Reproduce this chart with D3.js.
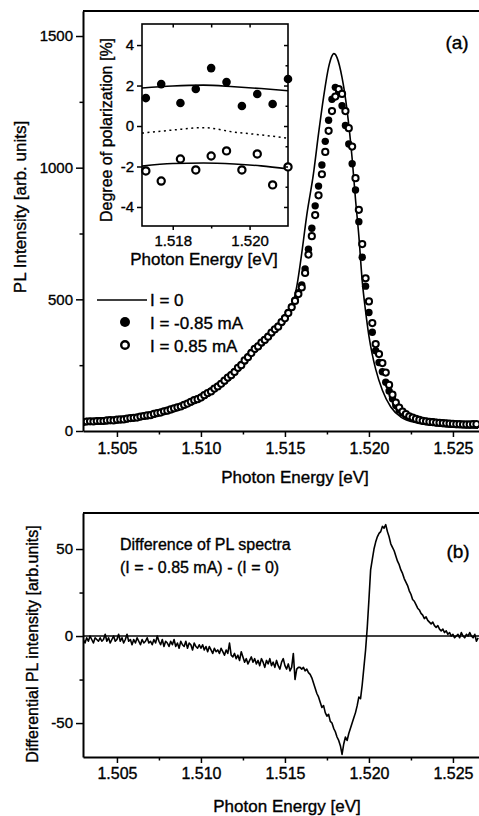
<!DOCTYPE html>
<html lang="en">
<head>
<meta charset="UTF-8">
<script src="https://d3js.org/d3.v7.min.js"></script>
<title>PL spectra</title>
<style>
  body { margin: 0; background: #fff; }
  svg { display: block; }
  svg text { stroke: #000; stroke-width: 0.35px; }
</style>
</head>
<body>
<svg class="chart"></svg>
<script>
// photon energy grid of the measured PL points [eV]
const energy = [
  1.5030,1.5032,1.5034,1.5036,1.5038, 1.5040,1.5042,1.5044,1.5046,1.5048,
  1.5050,1.5052,1.5054,1.5056,1.5058, 1.5060,1.5062,1.5064,1.5066,1.5068,
  1.5070,1.5072,1.5074,1.5076,1.5078, 1.5080,1.5082,1.5084,1.5086,1.5088,
  1.5090,1.5092,1.5094,1.5096,1.5098, 1.5100,1.5102,1.5104,1.5106,1.5108,
  1.5110,1.5112,1.5114,1.5116,1.5118, 1.5120,1.5122,1.5124,1.5126,1.5128,
  1.5130,1.5132,1.5134,1.5136,1.5138, 1.5140,1.5142,1.5144,1.5146,1.5148,
  1.5150,1.5152,1.5154,1.5156,1.5158, 1.5160,1.5162,1.5164,1.5166,1.5168,
  1.5170,1.5172,1.5174,1.5176,1.5178, 1.5180,1.5182,1.5184,1.5186,1.5188,
  1.5190,1.5192,1.5194,1.5196,1.5198, 1.5200,1.5202,1.5204,1.5206,1.5208,
  1.5210,1.5212,1.5214,1.5216,1.5218, 1.5220,1.5222,1.5224,1.5226,1.5228,
  1.5230,1.5232,1.5234,1.5236,1.5238, 1.5240,1.5242,1.5244,1.5246,1.5248,
  1.5250,1.5252,1.5254,1.5256,1.5258, 1.5260,1.5262,1.5264
];
// I = -0.85 mA (filled circles)
const plNeg = [
  35,36,36,37,37, 38,39,39,40,41,
  42,43,45,46,48, 50,52,54,56,58,
  61,64,67,71,74, 78,81,85,89,94,
  100,105,110,116,122, 128,135,143,152,160,
  170,180,190,201,213, 225,238,252,266,282,
  298,310,322,334,347, 360,372,385,398,413,
  430,450,472,497,525, 555,615,690,770,855,
  930,1010,1100,1180,1260, 1305,1285,1235,1160,1090,
  1015,915,795,660,550, 450,375,305,260,225,
  185,152,122,97,80, 68,60,53,48,44,
  40,38,36,35,34, 32,31,30,29,28,
  27,26,25,25,24, 24,25,25
];
// I = 0.85 mA (open circles)
const plPos = [
  34,36,37,36,38, 38,38,40,41,40,
  43,44,44,47,49, 50,51,55,57,59,
  60,65,68,70,75, 77,82,86,90,93,
  99,104,111,117,121, 127,136,144,150,161,
  169,179,191,203,212, 224,240,250,268,280,
  296,312,321,336,346, 358,374,386,396,414,
  428,448,470,494,520, 545,600,670,740,820,
  895,975,1060,1140,1215, 1270,1298,1280,1215,1150,
  1080,960,840,710,580, 492,410,330,292,258,
  222,175,138,108,89, 74,64,56,51,46,
  42,39,37,35,34, 32,31,30,29,28,
  27,26,26,25,25, 25,26,26
];
// I = 0 (solid line)
const lineE = [1.5030,1.5040,1.5050,1.5060,1.5070,1.5080,1.5090,1.5100,1.5110,1.5120,
  1.5130,1.5140,1.5146,1.5150,1.5153,1.5157,1.5160,1.5163,1.5167,1.5170,1.5173,1.5176,
  1.5178,1.5179,1.5180,1.5181,1.5184,1.5187,1.5190,1.5192,1.5194,1.5196,1.5198,1.5200,
  1.5202,1.5204,1.5208,1.5213,1.5219,1.5229,1.5240,1.5250,1.5265];
const lineI = [33,37,41,49,59,76,97,124,167,224,
  294,358,395,428,450,547,675,820,978,1129,1268,1382,
  1425,1433,1430,1418,1342,1217,1035,880,740,570,455,360,
  290,235,155,91,53,30,20,14,11];

// inset: degree of polarization [%]
const inE = [1.5173,1.5177,1.5182,1.5186,1.5190,1.5194,1.5198,1.5202,1.5206,1.5210];
const polNeg = [1.38,2.07,1.14,1.83,2.86,2.17,0.99,1.58,1.09,2.32];
const polPos = [-2.22,-2.72,-1.63,-2.17,-1.48,-1.23,-2.17,-1.38,-2.91,-2.02];
const fitE = [1.5172,1.5180,1.5188,1.5196,1.5203,1.5210];
const fitUp = [1.88,1.98,2.02,1.94,1.85,1.74];
const fitLow = [-1.98,-1.85,-1.83,-1.88,-1.97,-2.12];
const fitMid = [-0.35,-0.2,-0.08,-0.3,-0.44,-0.6];

// difference spectrum (I = -0.85 mA) - (I = 0)
const diffE = [
  1.5030,1.5031,1.5032,1.5033,1.5034,1.5035,1.5036,1.5037,1.5038,1.5039,
  1.5040,1.5041,1.5042,1.5043,1.5044,1.5045,1.5046,1.5047,1.5048,1.5049,
  1.5050,1.5051,1.5052,1.5053,1.5054,1.5055,1.5056,1.5057,1.5058,1.5059,
  1.5060,1.5061,1.5062,1.5063,1.5064,1.5065,1.5066,1.5067,1.5068,1.5069,
  1.5070,1.5071,1.5072,1.5073,1.5074,1.5075,1.5076,1.5077,1.5078,1.5079,
  1.5080,1.5081,1.5082,1.5083,1.5084,1.5085,1.5086,1.5087,1.5088,1.5089,
  1.5090,1.5091,1.5092,1.5093,1.5094,1.5095,1.5096,1.5097,1.5098,1.5099,
  1.5100,1.5101,1.5102,1.5103,1.5104,1.5105,1.5106,1.5107,1.5108,1.5109,
  1.5110,1.5111,1.5112,1.5113,1.5114,1.5115,1.5116,1.5117,1.5118,1.5119,
  1.5120,1.5121,1.5122,1.5123,1.5124,1.5125,1.5126,1.5127,1.5128,1.5129,
  1.5130,1.5131,1.5132,1.5133,1.5134,1.5135,1.5136,1.5137,1.5138,1.5139,
  1.5140,1.5141,1.5142,1.5143,1.5144,1.5145,1.5146,1.5147,1.5148,1.5149,
  1.5150,1.5151,1.5152,1.5153,1.5154,1.5155,1.5156,1.5157,1.5158,1.5159,
  1.5160,1.5161,1.5162,1.5163,1.5164,1.5165,1.5166,1.5167,1.5168,1.5169,
  1.5170,1.5171,1.5172,1.5173,1.5174,1.5175,1.5176,1.5177,1.5178,1.5179,
  1.5180,1.5181,1.5182,1.5183,1.5184,1.5185,1.5186,1.5187,1.5188,1.5189,
  1.5190,1.5191,1.5192,1.5193,1.5194,1.5195,1.5196,1.5197,1.5198,1.5199,
  1.5200,1.5201,1.5202,1.5203,1.5204,1.5205,1.5206,1.5207,1.5208,1.5209,
  1.5210,1.5211,1.5212,1.5213,1.5214,1.5215,1.5216,1.5217,1.5218,1.5219,
  1.5220,1.5221,1.5222,1.5223,1.5224,1.5225,1.5226,1.5227,1.5228,1.5229,
  1.5230,1.5231,1.5232,1.5233,1.5234,1.5235,1.5236,1.5237,1.5238,1.5239,
  1.5240,1.5241,1.5242,1.5243,1.5244,1.5245,1.5246,1.5247,1.5248,1.5249,
  1.5250,1.5251,1.5252,1.5253,1.5254,1.5255,1.5256,1.5257,1.5258,1.5259,
  1.5260,1.5261,1.5262,1.5263,1.5264,1.5265
];
const diffV = [
  -2,-4,-1,-3,0,-2,-4,-1,-2,-3,
  -1,-3,-2,1,-3,-1,-4,-2,0,-3,
  -2,1,-3,-1,-4,-2,1,-3,-2,-5,
  -2,-4,-1,-3,-5,-2,-4,-3,-1,-4,
  -3,-5,-2,-4,0,-3,-5,-2,-6,-3,
  -4,-6,-3,-5,-2,-6,-4,-7,-3,-5,
  -6,-3,-7,-4,-5,-8,-4,-6,-7,-5,
  -7,-5,-8,-6,-9,-6,-8,-10,-7,-9,
  -8,-10,-7,-9,-11,-8,-10,-4,-11,-12,
  -10,-13,-11,-14,-9,-12,-15,-13,-16,-14,
  -12,-15,-13,-16,-14,-17,-13,-15,-18,-14,
  -16,-13,-17,-15,-18,-14,-17,-19,-15,-13,
  -17,-19,-16,-20,-18,-10,-25,-19,-18,-18,
  -19,-18,-20,-19,-21,-22,-24,-27,-30,-33,
  -35,-38,-41,-40,-44,-46,-45,-49,-50,-53,
  -55,-58,-60,-63,-68,-62,-58,-60,-56,-53,
  -50,-47,-44,-40,-35,-36,-28,-18,-8,5,
  21,38,44,50,54,57,59,60,63,62,
  64,60,57,53,51,49,46,43,41,38,
  36,33,31,29,26,24,21,20,18,16,
  15,13,12,10,11,9,8,7,8,6,
  5,6,4,3,4,2,3,1,2,0,
  1,-1,0,1,-1,2,0,-1,1,0,
  2,0,-1,1,-3,-1
];

const xTicks = [1.505, 1.510, 1.515, 1.520, 1.525];
const xMinor = [1.5075, 1.5125, 1.5175, 1.5225];
const yTopTicks = [0, 500, 1000, 1500];
const yTopMinor = [250, 750, 1250];
const yBotTicks = [-50, 0, 50];
const yBotMinor = [-25, 25];
const inXTicks = [1.518, 1.520];
const inXMinor = [1.519];
const inYTicks = [-4, -2, 0, 2, 4];
const inYMinor = [-3, -1, 1, 3];

const FONT = '"Liberation Sans", Arial, sans-serif';

let svg = d3.select('.chart').attr('width', 479).attr('height', 816);

let x = d3.scaleLinear().domain([1.50298, 1.52667]).range([83, 481]);
let yTop = d3.scaleLinear().domain([0, 1595]).range([431, 11]);
let yBot = d3.scaleLinear().domain([-69.5, 70.7]).range([757, 513]);

function styleAxis(g, size) {
    g.attr('font-family', FONT).attr('font-size', size);
    g.selectAll('.domain').attr('stroke-width', 2);
    g.selectAll('.tick line').attr('stroke-width', 1.5);
    g.selectAll('.tick text').attr('fill', '#000');
}

function minor(g, axis) {
    g.call(axis.tickFormat('').tickSizeOuter(0));
    g.select('.domain').remove();
    g.selectAll('.tick line').attr('stroke-width', 1.5);
}

// ---------- panel (a) ----------
svg.append('clipPath').attr('id', 'clipA')
    .append('rect').attr('x', 83).attr('y', 11).attr('width', 400).attr('height', 420);

svg.append('line').attr('x1', 83).attr('x2', 481).attr('y1', 11).attr('y2', 11)
    .attr('stroke', '#000').attr('stroke-width', 2);

let plotA = svg.append('g').attr('clip-path', 'url(#clipA)');

plotA.append('path')
    .datum(lineE.map((e, i) => [e, lineI[i]]))
    .attr('fill', 'none').attr('stroke', '#000').attr('stroke-width', 1.6)
    .attr('d', d3.line().x(d => x(d[0])).y(d => yTop(d[1])).curve(d3.curveMonotoneX));

plotA.selectAll('circle.neg')
    .data(energy)
    .enter()
    .append('circle').attr('class', 'neg')
    .attr('cx', d => x(d))
    .attr('cy', (d, i) => yTop(plNeg[i]))
    .attr('r', 3.7)
    .attr('fill', '#000');

plotA.selectAll('circle.pos')
    .data(energy)
    .enter()
    .append('circle').attr('class', 'pos')
    .attr('cx', d => x(d))
    .attr('cy', (d, i) => yTop(plPos[i]))
    .attr('r', 3.1)
    .attr('fill', '#fff').attr('stroke', '#000').attr('stroke-width', 2);

let gxA = svg.append('g').attr('transform', 'translate(0,431)')
    .call(d3.axisBottom(x).tickValues(xTicks).tickSize(6).tickPadding(6).tickSizeOuter(0).tickFormat(d3.format('.3f')));
styleAxis(gxA, 16);
minor(svg.append('g').attr('transform', 'translate(0,431)'), d3.axisBottom(x).tickValues(xMinor).tickSize(3.5));

let gyA = svg.append('g').attr('transform', 'translate(83,0)')
    .call(d3.axisLeft(yTop).tickValues(yTopTicks).tickSize(7).tickPadding(3).tickSizeOuter(0).tickFormat(d => String(d)));
styleAxis(gyA, 15);
minor(svg.append('g').attr('transform', 'translate(83,0)'), d3.axisLeft(yTop).tickValues(yTopMinor).tickSize(3.5));

svg.append('text').attr('x', 295).attr('y', 483).attr('text-anchor', 'middle')
    .attr('font-family', FONT).attr('font-size', 17).text('Photon Energy [eV]');
svg.append('text').attr('transform', 'translate(26,207) rotate(-90)').attr('text-anchor', 'middle')
    .attr('font-family', FONT).attr('font-size', 17).text('PL Intensity [arb. units]');
svg.append('text').attr('x', 457).attr('y', 49).attr('text-anchor', 'middle')
    .attr('font-family', FONT).attr('font-size', 19).text('(a)');

// legend
svg.append('line').attr('x1', 97).attr('x2', 147).attr('y1', 300).attr('y2', 300)
    .attr('stroke', '#000').attr('stroke-width', 1.6);
svg.append('circle').attr('cx', 125).attr('cy', 322).attr('r', 5).attr('fill', '#000');
svg.append('circle').attr('cx', 125).attr('cy', 345).attr('r', 3.8)
    .attr('fill', '#fff').attr('stroke', '#000').attr('stroke-width', 2.4);
let legendText = ['I = 0', 'I = -0.85 mA', 'I = 0.85 mA'];
svg.selectAll('text.legend')
    .data(legendText)
    .enter()
    .append('text').attr('class', 'legend')
    .attr('x', 150)
    .attr('y', (d, i) => 306 + i * 23)
    .attr('font-family', FONT).attr('font-size', 17)
    .text(d => d);

// ---------- inset ----------
let ix = d3.scaleLinear().domain([1.5172, 1.5210]).range([142, 288]);
let iy = d3.scaleLinear().domain([-4.94, 5.04]).range([226, 24]);

svg.append('rect').attr('x', 142).attr('y', 24).attr('width', 146).attr('height', 202)
    .attr('fill', '#fff').attr('stroke', '#000').attr('stroke-width', 1.6);

let lineIn = d3.line().x(d => ix(d[0])).y(d => iy(d[1])).curve(d3.curveMonotoneX);
svg.append('path').datum(fitE.map((e, i) => [e, fitUp[i]]))
    .attr('fill', 'none').attr('stroke', '#000').attr('stroke-width', 1.6).attr('d', lineIn);
svg.append('path').datum(fitE.map((e, i) => [e, fitLow[i]]))
    .attr('fill', 'none').attr('stroke', '#000').attr('stroke-width', 1.6).attr('d', lineIn);
svg.append('path').datum(fitE.map((e, i) => [e, fitMid[i]]))
    .attr('fill', 'none').attr('stroke', '#000').attr('stroke-width', 1.5)
    .attr('stroke-dasharray', '2,3.5').attr('d', lineIn);

svg.selectAll('circle.ineg')
    .data(inE)
    .enter()
    .append('circle').attr('class', 'ineg')
    .attr('cx', d => ix(d))
    .attr('cy', (d, i) => iy(polNeg[i]))
    .attr('r', 4.3)
    .attr('fill', '#000');
svg.selectAll('circle.ipos')
    .data(inE)
    .enter()
    .append('circle').attr('class', 'ipos')
    .attr('cx', d => ix(d))
    .attr('cy', (d, i) => iy(polPos[i]))
    .attr('r', 3.6)
    .attr('fill', '#fff').attr('stroke', '#000').attr('stroke-width', 2.2);

let gxI = svg.append('g').attr('transform', 'translate(0,226)')
    .call(d3.axisBottom(ix).tickValues(inXTicks).tickSize(4).tickPadding(5).tickSizeOuter(0).tickFormat(d3.format('.3f')));
styleAxis(gxI, 15);
gxI.select('.domain').remove();
minor(svg.append('g').attr('transform', 'translate(0,226)'), d3.axisBottom(ix).tickValues(inXMinor).tickSize(2.5));
minor(svg.append('g').attr('transform', 'translate(0,24)'), d3.axisBottom(ix).tickValues(inXTicks.concat(inXMinor)).tickSize(3.5));

let gyI = svg.append('g').attr('transform', 'translate(142,0)')
    .call(d3.axisLeft(iy).tickValues(inYTicks).tickSize(5).tickPadding(3).tickSizeOuter(0).tickFormat(d => String(d)));
styleAxis(gyI, 15);
gyI.select('.domain').remove();
minor(svg.append('g').attr('transform', 'translate(288,0)'), d3.axisLeft(iy).tickValues(inYTicks).tickSize(4));
minor(svg.append('g').attr('transform', 'translate(288,0)'), d3.axisLeft(iy).tickValues(inYMinor).tickSize(2.5));

svg.append('text').attr('x', 204).attr('y', 265).attr('text-anchor', 'middle')
    .attr('font-family', FONT).attr('font-size', 17).text('Photon Energy [eV]');
svg.append('text').attr('transform', 'translate(112,130) rotate(-90)').attr('text-anchor', 'middle')
    .attr('font-family', FONT).attr('font-size', 16).text('Degree of polarization [%]');

// ---------- panel (b) ----------
svg.append('clipPath').attr('id', 'clipB')
    .append('rect').attr('x', 83).attr('y', 513).attr('width', 400).attr('height', 244);

svg.append('line').attr('x1', 83).attr('x2', 481).attr('y1', 513).attr('y2', 513)
    .attr('stroke', '#000').attr('stroke-width', 2);

let plotB = svg.append('g').attr('clip-path', 'url(#clipB)');
plotB.append('line').attr('x1', 83).attr('x2', 481).attr('y1', yBot(0)).attr('y2', yBot(0))
    .attr('stroke', '#000').attr('stroke-width', 1.5);
plotB.append('path')
    .datum(diffE.map((e, i) => [e, diffV[i]]))
    .attr('fill', 'none').attr('stroke', '#000').attr('stroke-width', 1.6).attr('stroke-linejoin', 'round')
    .attr('d', d3.line().x(d => x(d[0])).y(d => yBot(d[1])));

let gxB = svg.append('g').attr('transform', 'translate(0,757)')
    .call(d3.axisBottom(x).tickValues(xTicks).tickSize(6).tickPadding(5).tickSizeOuter(0).tickFormat(d3.format('.3f')));
styleAxis(gxB, 16);
minor(svg.append('g').attr('transform', 'translate(0,757)'), d3.axisBottom(x).tickValues(xMinor).tickSize(3.5));

let gyB = svg.append('g').attr('transform', 'translate(83,0)')
    .call(d3.axisLeft(yBot).tickValues(yBotTicks).tickSize(7).tickPadding(3).tickSizeOuter(0).tickFormat(d => String(d)));
styleAxis(gyB, 15);
minor(svg.append('g').attr('transform', 'translate(83,0)'), d3.axisLeft(yBot).tickValues(yBotMinor).tickSize(3.5));

svg.append('text').attr('x', 287).attr('y', 812).attr('text-anchor', 'middle')
    .attr('font-family', FONT).attr('font-size', 17).text('Photon Energy [eV]');
svg.append('text').attr('transform', 'translate(38,644) rotate(-90)').attr('text-anchor', 'middle')
    .attr('font-family', FONT).attr('font-size', 16).text('Differential PL intensity [arb.units]');
svg.append('text').attr('x', 120).attr('y', 550)
    .attr('font-family', FONT).attr('font-size', 16).text('Difference of PL spectra');
svg.append('text').attr('x', 120).attr('y', 573)
    .attr('font-family', FONT).attr('font-size', 16).text('(I = - 0.85 mA) - (I = 0)');
svg.append('text').attr('x', 458).attr('y', 558).attr('text-anchor', 'middle')
    .attr('font-family', FONT).attr('font-size', 19).text('(b)');
</script>
</body>
</html>
